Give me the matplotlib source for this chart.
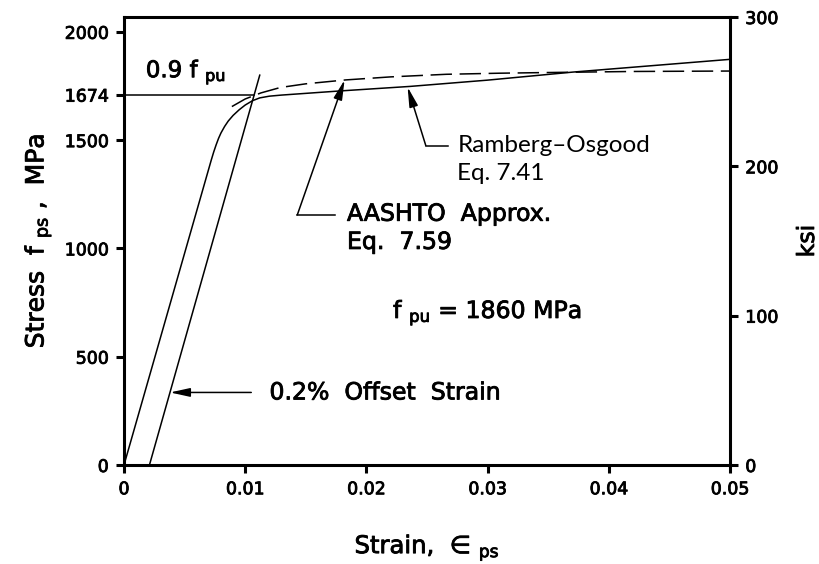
import numpy as np
import matplotlib
matplotlib.use('Agg')
from matplotlib import pyplot as plt
from matplotlib import patheffects as pe

# Ramberg-Osgood curve (Eq. 7.41)
strain_ro = [0, 0.0072, 0.0074, 0.0076, 0.0078, 0.0080, 0.0083, 0.0086, 0.0090,
             0.0095, 0.0100, 0.0106, 0.0112, 0.0120, 0.0130, 0.0178, 0.0236,
             0.0300, 0.0370, 0.0500]
stress_ro = [0, 1408, 1445, 1478, 1508, 1533, 1563, 1588, 1614,
             1640, 1662, 1682, 1695, 1703, 1708, 1727, 1748,
             1777, 1814, 1873]

# AASHTO approximation (Eq. 7.59), dashed
strain_aashto = [0.0089, 0.0100, 0.0113, 0.0129, 0.0150, 0.0183, 0.0220, 0.0266,
                 0.0310, 0.0348, 0.0420, 0.0500]
stress_aashto = [1655, 1690, 1718, 1743, 1760, 1778, 1792, 1804,
                 1809, 1812, 1817, 1819]

# 0.2% offset line
strain_offset = [0.0021, 0.0112]
stress_offset = [0, 1800]

# 0.9 fpu level line
strain_fpy = [0, 0.0107]
stress_fpy = [1710, 1710]

xticks = [0, 0.01, 0.02, 0.03, 0.04, 0.05]
xtick_labels = ['0', '0.01', '0.02', '0.03', '0.04', '0.05']
yticks = [0, 500, 1000, 1500, 1710, 2000]
ytick_labels = ['0', '500', '1000', '1500', '1674', '2000']
ksi_ticks = [0, 100, 200, 300]
MPA_PER_KSI = 6.895

plt.rcParams['font.family'] = ['DejaVu Sans']
plt.rcParams['mathtext.fontset'] = 'dejavusans'

# fake a semibold weight
heavy = [pe.withStroke(linewidth=0.6, foreground='black')]

fig = plt.figure(figsize=(8.2, 5.64), dpi=100)
ax = fig.add_axes([124/820, 99/564, 606/820, 448/564])

lw = 1.1
ax.plot(strain_ro, stress_ro, color='black', lw=lw)
ax.plot(strain_aashto, stress_aashto, color='black', lw=lw, dashes=(14, 5))
ax.plot(strain_offset, stress_offset, color='black', lw=lw)
ax.plot(strain_fpy, stress_fpy, color='black', lw=lw)

ax.set_xlim(0, 0.05)
ax.set_ylim(0, 300*MPA_PER_KSI)
ax.set_xticks(xticks)
ax.set_xticklabels(xtick_labels)
ax.set_yticks(yticks)
ax.set_yticklabels(ytick_labels)

for s in ax.spines.values():
    s.set_linewidth(2.2)
ax.tick_params(direction='out', length=6, width=2.2, labelsize=12.5, pad=5)

ax2 = ax.twinx()
ax2.set_ylim(0, 300)
ax2.set_yticks(ksi_ticks)
ax2.tick_params(direction='out', length=6, width=2.2, labelsize=12.5, pad=5)
ax2.set_ylabel('ksi', fontsize=17, labelpad=12)

ax.set_xlabel('Strain,  ∈ $_{\\rm ps}$', fontsize=17.5, labelpad=24)
ax.set_ylabel('Stress  f $_{\\rm ps}$ ,  MPa', fontsize=18, labelpad=8)

ann_fs = 17
ax.text(0.0018, 1815, '0.9 f $_{\\rm pu}$', fontsize=16.5, va='center')

# Ramberg-Osgood leader
head = dict(arrowstyle='-|>,head_length=1.0,head_width=0.22', color='black',
            lw=lw, mutation_scale=12, shrinkA=0, shrinkB=0)
ax.plot([0.0249, 0.0267], [1475, 1475], color='black', lw=lw)
ax.annotate('', xy=(0.0234, 1745), xytext=(0.0249, 1475), arrowprops=head)
ax.text(0.0275, 1475, 'Ramberg\u2013Osgood', fontsize=17.5, family='Lato', va='center')
ax.text(0.0275, 1345, 'Eq. 7.41', fontsize=17.5, family='Lato', va='center')

# AASHTO leader
ax.plot([0.0143, 0.0174], [1155, 1155], color='black', lw=lw)
ax.annotate('', xy=(0.0182, 1778), xytext=(0.0143, 1155), arrowprops=head)
ax.text(0.0184, 1160, 'AASHTO  Approx.', fontsize=ann_fs, va='center')
ax.text(0.0184, 1030, 'Eq.  7.59', fontsize=ann_fs, va='center')

ax.text(0.0222, 705, 'f $_{\\rm pu}$ = 1860 MPa', fontsize=ann_fs, va='center')

# offset strain arrow
ax.annotate('', xy=(0.0038, 335), xytext=(0.0105, 335), arrowprops=head)
ax.text(0.0120, 335, '0.2%  Offset  Strain', fontsize=ann_fs, va='center')

for t in ax.texts + ax.get_xticklabels() + ax.get_yticklabels() + ax2.get_yticklabels() \
        + [ax.xaxis.label, ax.yaxis.label, ax2.yaxis.label]:
    if 'Lato' not in t.get_fontfamily():
        t.set_path_effects(heavy)

fig.savefig('out.png', dpi=100)
